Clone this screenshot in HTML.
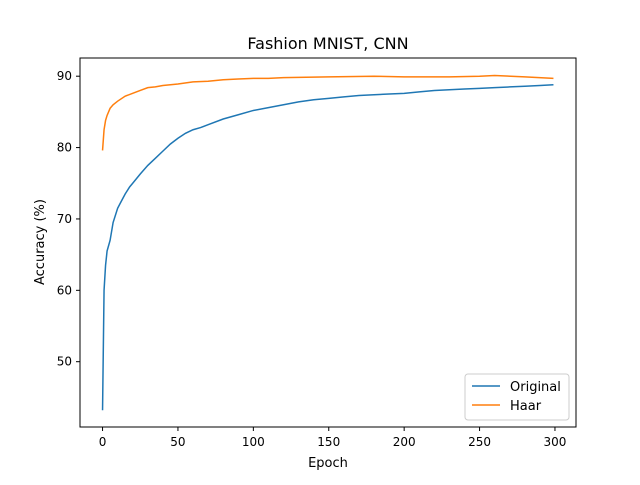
<!DOCTYPE html>
<html><head><meta charset="utf-8"><style>
body{margin:0;background:#fff;}
svg text{font-family:"DejaVu Sans","Liberation Sans",sans-serif;fill:#000;}
</style></head><body>
<svg id="chart" width="640" height="480">
<rect width="640" height="480" fill="#fff"/>
<text x="328" y="49" font-size="16" text-anchor="middle">Fashion MNIST, CNN</text>
<g id="plot"></g>
<rect x="80" y="58" width="496" height="369" fill="none" stroke="#000" stroke-width="1"/>
<text x="328" y="467" font-size="13" text-anchor="middle">Epoch</text>
<text x="44" y="242" font-size="13" text-anchor="middle" transform="rotate(-90 44 242)">Accuracy (%)</text>
<g>
<rect x="465" y="374" width="104" height="46" rx="3" fill="#fff" stroke="#ccc"/>
<line x1="472" y1="386" x2="500" y2="386" stroke="#1f77b4" stroke-width="1.5"/>
<text x="510" y="391" font-size="13">Original</text>
<line x1="472" y1="405" x2="500" y2="405" stroke="#ff7f0e" stroke-width="1.5"/>
<text x="510" y="410" font-size="13">Haar</text>
</g>
</svg>
<script>
const xTicks=[0,50,100,150,200,250,300];
const yTicks=[50,60,70,80,90];
const origEpochs=[0,1,2,3,5,7,10,12,15,18,20,25,30,35,40,45,50,55,60,65,70,80,90,100,110,120,130,140,150,160,170,180,190,200,210,220,230,240,250,260,270,280,290,299];
const origValues=[43.2,60,63.5,65.5,67,69.5,71.5,72.3,73.5,74.5,75,76.3,77.5,78.5,79.5,80.5,81.3,82,82.5,82.8,83.2,84,84.6,85.2,85.6,86,86.4,86.7,86.9,87.1,87.3,87.4,87.5,87.6,87.8,88,88.1,88.2,88.3,88.4,88.5,88.6,88.7,88.8];
const haarEpochs=[0,1,2,3,5,7,10,15,20,25,30,35,40,50,60,70,80,90,100,110,120,150,180,200,230,250,260,280,299];
const haarValues=[79.6,82.5,83.8,84.5,85.5,86,86.5,87.2,87.6,88,88.4,88.5,88.7,88.9,89.2,89.3,89.5,89.6,89.7,89.7,89.8,89.9,90,89.9,89.9,90,90.1,89.9,89.7];
const X=v=>80+(v+14.95)*496/328.9;
const Y=v=>427-(v-40.85)*369/51.7;
const ns="http://www.w3.org/2000/svg";
const g=document.getElementById('plot');
function mk(t,a){const e=document.createElementNS(ns,t);for(const k in a)e.setAttribute(k,a[k]);g.appendChild(e);return e;}
xTicks.forEach(t=>{
 const l=mk('line',{x1:X(t),x2:X(t),y1:427,y2:431,stroke:'#000'});
 
 
 const tx=mk('text',{x:X(t),y:446,'font-size':12,'text-anchor':'middle'});tx.textContent=t;
 
 
});
yTicks.forEach(t=>{
 const l=mk('line',{x1:76,x2:80,y1:Y(t),y2:Y(t),stroke:'#000'});
 
 
 const tx=mk('text',{x:72,y:Y(t)+4,'font-size':12,'text-anchor':'end'});tx.textContent=t;
 
 
});
function line(xs,ys,c,name){
 const p=mk('polyline',{points:xs.map((x,i)=>X(x)+','+Y(ys[i])).join(' '),fill:'none',stroke:c,'stroke-width':1.5});
 
 
}
line(origEpochs,origValues,'#1f77b4','original-line');
line(haarEpochs,haarValues,'#ff7f0e','haar-line');
</script>
</body></html>
